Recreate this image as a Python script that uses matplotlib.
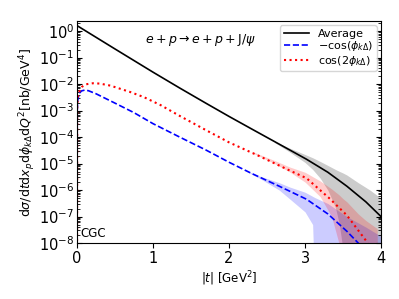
import numpy as np
import matplotlib
matplotlib.use("Agg")
import matplotlib.pyplot as plt
from matplotlib.ticker import LogLocator, NullFormatter

# average (black solid)
t_avg = [0.0, 0.5, 1.0, 1.35, 1.7, 2.0, 2.3, 2.66, 3.02, 3.3, 3.55, 3.8, 4.0]
avg = [1.6, 0.21, 0.028, 7.1e-3, 1.86e-3, 6.0e-4, 2.0e-4, 5.4e-5, 1.45e-5, 4.7e-6,
       1.4e-6, 3.6e-7, 1.0e-7]
t_avg_band = [2.6, 2.8, 3.0, 3.1, 3.2, 3.3, 3.4, 3.45, 3.5, 3.52, 3.55, 3.7, 3.85, 4.0]
avg_hi = [6.8e-5, 3.8e-5, 2.2e-5, 1.66e-5, 1.2e-5, 8.5e-6, 6.0e-6, 5.1e-6, 4.4e-6, 4.1e-6,
          3.7e-6, 1.9e-6, 1.02e-6, 4.9e-7]
avg_lo = [6.2e-5, 2.7e-5, 1.1e-5, 6.0e-6, 2.8e-6, 1.0e-6, 2.2e-7, 5.4e-8, 5.4e-9, 1e-10,
          1e-10, 1e-10, 1e-10, 1e-10]

# -cos(phi) (blue dashed)
t_c1 = [0.0, 0.003, 0.01, 0.03, 0.06, 0.1, 0.15, 0.25, 0.5, 0.75, 1.0, 1.35, 1.7, 2.0,
        2.3, 2.66, 3.02, 3.3, 3.55, 3.7, 3.75]
c1 = [1e-10, 1.0e-3, 2.5e-3, 4.5e-3, 5.5e-3, 5.9e-3, 5.6e-3, 4.3e-3, 1.9e-3, 8.3e-4,
      3.2e-4, 1.0e-4, 3.2e-5, 1.12e-5, 4.2e-6, 1.4e-6, 4.5e-7, 1.26e-7, 2.8e-8, 1.0e-8, 5e-9]
t_c1_band = [2.2, 2.4, 2.66, 2.8, 3.0, 3.1, 3.13, 3.3, 3.55, 3.8, 4.0]
c1_hi = [5.8e-6, 3.4e-6, 1.9e-6, 1.3e-6, 8.3e-7, 5.8e-7, 5.2e-7, 3.1e-7, 1.0e-7, 4.0e-8, 1.8e-8]
c1_lo = [5.6e-6, 2.8e-6, 1.0e-6, 4.6e-7, 1.5e-7, 5.0e-8, 1e-10, 1e-10, 1e-10, 1e-10, 1e-10]

# cos(2phi) (red dotted)
t_c2 = [0.0, 0.003, 0.01, 0.02, 0.066, 0.12, 0.21, 0.3, 0.44, 0.7, 0.88, 1.1, 1.35, 1.7,
        2.0, 2.4, 2.79, 3.02, 3.32, 3.55, 3.8, 3.88]
c2 = [1e-10, 1.5e-3, 3.0e-3, 4.6e-3, 7.9e-3, 9.8e-3, 1.07e-2, 1.04e-2, 8.7e-3, 5.0e-3,
      3.2e-3, 1.6e-3, 6.3e-4, 1.8e-4, 6.3e-5, 1.9e-5, 5.6e-6, 2.8e-6, 4.9e-7, 1.12e-7,
      1.26e-8, 5e-9]
t_c2_band = [2.3, 2.6, 2.8, 3.0, 3.2, 3.35, 3.45, 3.5, 3.55, 3.7, 3.8, 3.95, 3.951]
c2_hi = [2.9e-5, 1.3e-5, 7.4e-6, 4.7e-6, 2.2e-6, 1.1e-6, 6.5e-7, 4.7e-7, 3.6e-7, 1.26e-7,
         7.1e-8, 3.5e-8, 1e-10]
c2_lo = [2.6e-5, 1.0e-5, 4.8e-6, 2.0e-6, 5.6e-7, 1.0e-7, 9.0e-9, 1e-10, 1e-10, 1e-10,
         1e-10, 1e-10, 1e-10]

xticks = [0, 1, 2, 3, 4]

fig = plt.figure(figsize=(3.99, 2.99), dpi=100)
ax = fig.add_axes([0.193, 0.187, 0.762, 0.743])

ax.fill_between(t_avg_band, avg_lo, avg_hi, color="k", alpha=0.2, lw=0)
ax.fill_between(t_c1_band, c1_lo, c1_hi, color="b", alpha=0.2, lw=0)
ax.fill_between(t_c2_band, c2_lo, c2_hi, color="r", alpha=0.2, lw=0)

ax.plot(t_avg, avg, color="k", lw=1.2, label="Average")
ax.plot(t_c1, c1, color="b", ls="--", lw=1.2, label=r"$-\cos(\phi_{k\Delta})$")
ax.plot(t_c2, c2, color="r", ls=":", lw=1.5, label=r"$\cos(2\phi_{k\Delta})$")

ax.set_yscale("log")
ax.set_xlim(0, 4)
ax.set_ylim(1e-8, 2.4)
ax.set_xticks(xticks)
ax.set_xticklabels([str(x) for x in xticks])
ax.yaxis.set_major_locator(LogLocator(base=10, numticks=20))
ax.yaxis.set_minor_locator(LogLocator(base=10, subs=np.arange(2, 10), numticks=20))
ax.yaxis.set_minor_formatter(NullFormatter())
ax.tick_params(axis="y", which="both", direction="in", right=True, labelsize=10.5, pad=2)
ax.tick_params(axis="x", labelsize=10.5, pad=2)

ax.set_xlabel(r"$|t|$ [GeV$^2$]", fontsize=8.5, labelpad=3)
ax.set_ylabel(r"$\mathrm{d}\sigma/\mathrm{d}t\mathrm{d}x_p\mathrm{d}\phi_{k\Delta}\mathrm{d}Q^2$[nb/GeV$^4$]",
              fontsize=9, labelpad=1)

ax.text(0.405, 0.95, r"$e+p\rightarrow e+p+\mathrm{J}/\psi$", transform=ax.transAxes,
        fontsize=9, ha="center", va="top")
ax.text(0.012, 0.015, "CGC", transform=ax.transAxes, fontsize=8.5, ha="left", va="bottom")

ax.legend(loc="upper right", fontsize=8, handlelength=2.3, borderaxespad=0.4,
          labelspacing=0.05, handletextpad=0.8, borderpad=0.3)

fig.savefig("out.png", dpi=100)
